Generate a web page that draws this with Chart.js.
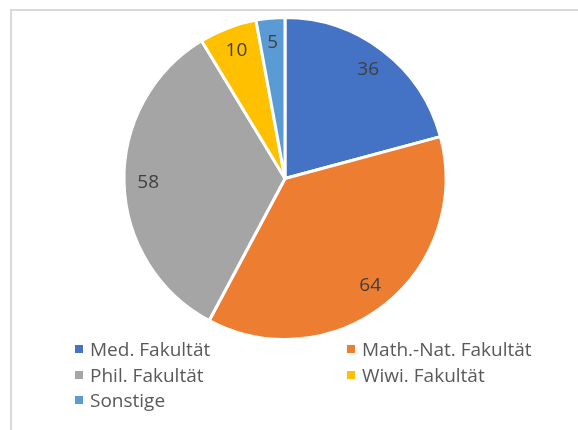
<!DOCTYPE html>
<html>
<head>
<meta charset="utf-8">
<script src="https://cdn.jsdelivr.net/npm/chart.js@4"></script>
<style>
  html, body { margin: 0; padding: 0; background: #fff; }
  #wrap { position: relative; width: 578px; height: 430px; overflow: hidden; }
  #frame { position: absolute; left: 10px; top: 9px; width: 600px; height: 460px;
           border-top: 2px solid #d9d9d9; border-left: 2px solid #d9d9d9; }
  #myChart { position: absolute; left: 0; top: 0; }
  #legend { position: absolute; left: 0; top: 337px; width: 578px;
            font-family: "Open Sans", sans-serif; font-size: 19px; color: #595959; }
  .item { position: absolute; white-space: nowrap; line-height: 25px; }
  .box { display: inline-block; width: 8px; height: 8px; margin-right: 7px; vertical-align: 3px; }
</style>
</head>
<body>
<div id="wrap">
  <div id="frame"></div>
  <canvas id="myChart" width="578" height="430"></canvas>
  <div id="legend"></div>
</div>
<script>
// dati del grafico
const categories = ['Med. Fakultät', 'Math.-Nat. Fakultät', 'Phil. Fakultät', 'Wiwi. Fakultät', 'Sonstige'];
const values = [36, 64, 58, 10, 5];
const colors = ['#4472C4', '#ED7D31', '#A5A5A5', '#FFC000', '#5B9BD5'];

const ctx = document.getElementById('myChart');

// etichette con i valori dentro le fette
const valueLabels = {
	id: 'valueLabels',
	afterDatasetsDraw(chart) {
		const c = chart.ctx;
		const meta = chart.getDatasetMeta(0);
		c.save();
		c.font = '19px "Open Sans", sans-serif';
		c.fillStyle = '#404040';
		c.textAlign = 'center';
		c.textBaseline = 'middle';
		meta.data.forEach((arc, i) => {
			const p = arc.getProps(['x', 'y', 'startAngle', 'endAngle', 'outerRadius'], true);
			const mid = (p.startAngle + p.endAngle) / 2;
			const r = p.outerRadius * 0.85;
			c.fillText(values[i], p.x + Math.cos(mid) * r, p.y + Math.sin(mid) * r);
		});
		c.restore();
	}
};

const chart = new Chart(ctx, {
	type: 'pie',
	data: {
		labels: categories,
		datasets: [{
			data: values,
			backgroundColor: colors,
			borderColor: '#ffffff',
			borderWidth: 3
		}]
	},
	options: {
		responsive: false,
		animation: false,
		layout: { padding: { top: 16, bottom: 89, left: 0, right: 8 } },
		plugins: {
			legend: { display: false },
			tooltip: { enabled: false }
		}
	},
	plugins: [valueLabels]
});

// legenda in due colonne come in Excel
const legend = document.getElementById('legend');
const colX = [75, 347];
categories.forEach((name, i) => {
	const el = document.createElement('div');
	el.className = 'item';
	el.style.left = colX[i % 2] + 'px';
	el.style.top = (Math.floor(i / 2) * 25.5) + 'px';
	el.innerHTML = '<span class="box" style="background:' + colors[i] + '"></span>' + name;
	legend.appendChild(el);
});
</script>
</body>
</html>
